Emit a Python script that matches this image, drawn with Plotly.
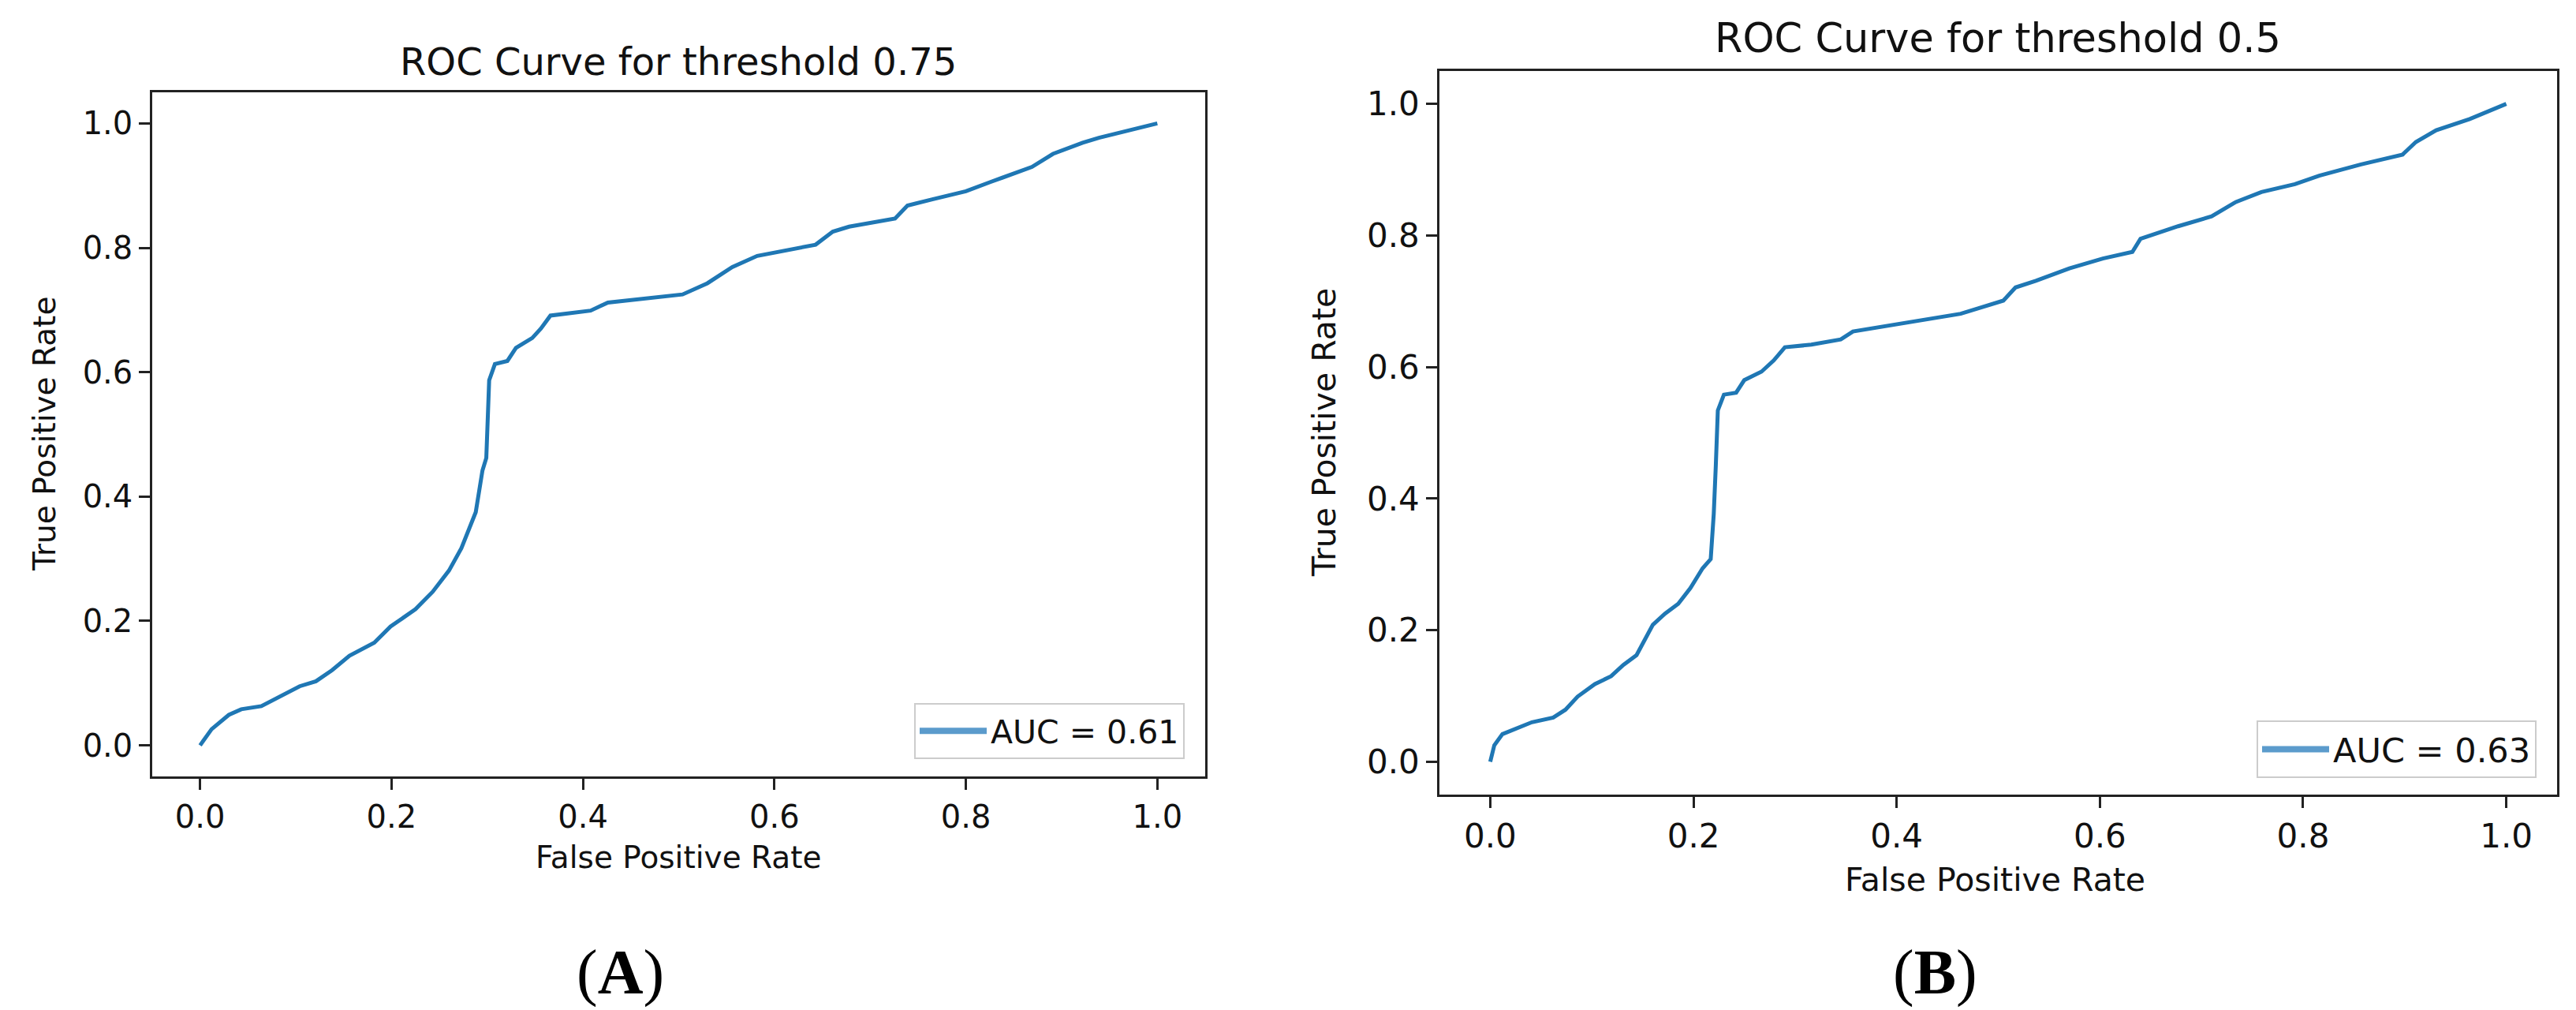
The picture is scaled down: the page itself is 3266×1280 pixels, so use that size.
import plotly.graph_objects as go

# ---------------- data ----------------
fpr_a = [0.0, 0.012, 0.030, 0.043, 0.064, 0.086, 0.104, 0.121, 0.138, 0.156, 0.182, 0.199,
         0.225, 0.243, 0.260, 0.273, 0.282, 0.288, 0.295, 0.299, 0.302, 0.308, 0.321, 0.330,
         0.347, 0.356, 0.366, 0.408, 0.426, 0.460, 0.504, 0.530, 0.556, 0.582, 0.608, 0.643,
         0.661, 0.678, 0.726, 0.739, 0.765, 0.800, 0.826, 0.869, 0.891, 0.922, 0.939, 0.974, 1.0]
tpr_a = [0.0, 0.026, 0.049, 0.058, 0.063, 0.080, 0.095, 0.103, 0.121, 0.144, 0.165, 0.191,
         0.219, 0.247, 0.281, 0.317, 0.351, 0.375, 0.442, 0.462, 0.587, 0.613, 0.618, 0.639,
         0.655, 0.670, 0.691, 0.699, 0.712, 0.717, 0.725, 0.743, 0.769, 0.787, 0.795, 0.805,
         0.826, 0.834, 0.847, 0.868, 0.878, 0.891, 0.906, 0.930, 0.951, 0.969, 0.977, 0.990, 1.0]

fpr_b = [0.0, 0.004, 0.012, 0.025, 0.041, 0.062, 0.074, 0.086, 0.103, 0.119, 0.131, 0.144,
         0.152, 0.160, 0.172, 0.185, 0.197, 0.209, 0.217, 0.220, 0.222, 0.224, 0.230, 0.242,
         0.250, 0.267, 0.279, 0.290, 0.316, 0.345, 0.357, 0.390, 0.422, 0.463, 0.480, 0.505,
         0.517, 0.537, 0.570, 0.603, 0.632, 0.640, 0.677, 0.710, 0.734, 0.759, 0.792, 0.816,
         0.857, 0.898, 0.911, 0.931, 0.964, 1.0]
tpr_b = [0.0, 0.025, 0.042, 0.050, 0.060, 0.067, 0.079, 0.099, 0.118, 0.130, 0.147, 0.162,
         0.186, 0.208, 0.225, 0.240, 0.264, 0.294, 0.308, 0.377, 0.450, 0.534, 0.558, 0.561,
         0.580, 0.593, 0.610, 0.630, 0.634, 0.642, 0.654, 0.662, 0.671, 0.681, 0.689, 0.701,
         0.721, 0.731, 0.750, 0.765, 0.775, 0.795, 0.814, 0.829, 0.851, 0.866, 0.878, 0.891,
         0.908, 0.923, 0.942, 0.960, 0.977, 1.0]

titles = ["ROC Curve for threshold 0.75", "ROC Curve for threshold 0.5"]
legend_names = ["AUC = 0.61", "AUC = 0.63"]
panel_labels = ["A", "B"]
tick_vals = [0.0, 0.2, 0.4, 0.6, 0.8, 1.0]
tick_text = ["0.0", "0.2", "0.4", "0.6", "0.8", "1.0"]
x_title = "False Positive Rate"
y_title = "True Positive Rate"

# ---------------- layout helpers ----------------
W, H = 3266, 1280
BLUE = "#1f77b4"
LEG_BLUE = "#5b9bcc"


def px(x):
    return x / W


def py(y):
    return 1 - y / H


fig = go.Figure()
fig.add_trace(go.Scatter(x=fpr_a, y=tpr_a, mode="lines", name=legend_names[0],
                         line=dict(color=BLUE, width=5), xaxis="x", yaxis="y",
                         showlegend=False))
fig.add_trace(go.Scatter(x=fpr_b, y=tpr_b, mode="lines", name=legend_names[1],
                         line=dict(color=BLUE, width=5), xaxis="x2", yaxis="y2",
                         showlegend=False))
# legend entries (same series names, drawn only in the legend boxes)
fig.add_trace(go.Scatter(x=[None], y=[None], mode="lines", name=legend_names[0],
                         line=dict(color=LEG_BLUE, width=8), xaxis="x", yaxis="y",
                         legend="legend", showlegend=True))
fig.add_trace(go.Scatter(x=[None], y=[None], mode="lines", name=legend_names[1],
                         line=dict(color=LEG_BLUE, width=8), xaxis="x2", yaxis="y2",
                         legend="legend2", showlegend=True))


def axis(domain, anchor, size):
    return dict(domain=domain, anchor=anchor, range=[-0.05, 1.05],
                tickvals=tick_vals, ticktext=tick_text,
                showgrid=False, zeroline=False, showline=True, mirror=True,
                linecolor="#222222", linewidth=2.5, ticks="outside", ticklen=14,
                tickwidth=2.5, tickcolor="#222222",
                tickfont=dict(family="DejaVu Sans", size=size, color="#111111"))


font = "DejaVu Sans"
fig.update_layout(
    width=W, height=H, margin=dict(l=0, r=0, t=0, b=0),
    paper_bgcolor="white", plot_bgcolor="white",
    xaxis=axis([px(185), px(1520)], "y", 40),
    yaxis=axis([py(976), py(109)], "x", 40),
    xaxis2=axis([px(1817), px(3234)], "y2", 42),
    yaxis2=axis([py(999), py(82)], "x2", 42),
    legend=dict(x=px(1494), y=py(954), xanchor="right", yanchor="bottom",
                bgcolor="rgba(255,255,255,0.8)", bordercolor="#cccccc", borderwidth=2,
                font=dict(family=font, size=41, color="#111111"), itemwidth=85),
    legend2=dict(x=px(3208), y=py(978), xanchor="right", yanchor="bottom",
                 bgcolor="rgba(255,255,255,0.8)", bordercolor="#cccccc", borderwidth=2,
                 font=dict(family=font, size=43, color="#111111"), itemwidth=85),
    showlegend=True,
)

ann = []
# titles
ann.append(dict(text=titles[0], x=px(852), y=py(70), font=dict(size=48)))
ann.append(dict(text=titles[1], x=px(2525), y=py(41), font=dict(size=51)))
# x titles
ann.append(dict(text=x_title, x=px(852), y=py(1078), font=dict(size=39)))
ann.append(dict(text=x_title, x=px(2521), y=py(1107), font=dict(size=41)))
# y titles
ann.append(dict(text=y_title, x=px(48), y=py(542), font=dict(size=39), textangle=-90))
ann.append(dict(text=y_title, x=px(1671), y=py(540), font=dict(size=41), textangle=-90))
for a in ann:
    a.update(xref="paper", yref="paper", showarrow=False, xanchor="center", yanchor="middle")
    a["font"].update(family=font, color="#111111")

# panel labels
for lab, xc in zip(panel_labels, [778, 2445]):
    ann.append(dict(text="(<b>%s</b>)" % lab, x=px(xc), y=py(1224), xref="paper", yref="paper",
                    showarrow=False, xanchor="center", yanchor="middle",
                    font=dict(family="Liberation Serif", size=80, color="#000000")))

fig.update_layout(annotations=ann)
fig.write_html("out.html")
